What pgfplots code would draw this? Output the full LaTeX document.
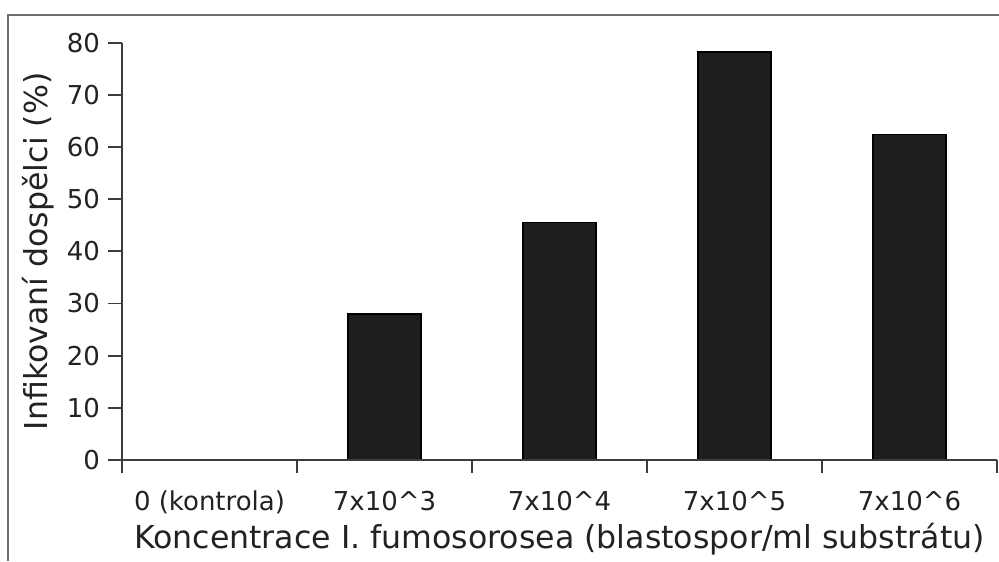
\documentclass[border=0pt]{standalone}
\usepackage{pgfplots}
\pgfplotsset{compat=1.18}
\usepackage{fontspec}
\setmainfont{DejaVu Sans}
\definecolor{axisgray}{HTML}{3C3C3C}
\definecolor{barfill}{HTML}{1E1E1E}
\definecolor{framegray}{HTML}{707070}
\definecolor{txt}{HTML}{222222}
\begin{document}
\begin{tikzpicture}
\useasboundingbox (-61pt,-50.5pt) rectangle (438.5pt,230pt);
\draw[framegray, line width=1.2pt] (-57pt,-50.5pt) -- (-57pt,222.5pt) -- (438.5pt,222.5pt);
\begin{axis}[
  at={(0pt,0pt)}, anchor=south west,
  scale only axis,
  width=437.5pt, height=208.65pt,
  xmin=-0.5, xmax=4.5, ymin=0, ymax=80,
  axis x line*=bottom, axis y line*=left,
  axis on top,
  axis line style={axisgray, line width=1pt},
  tick style={axisgray, line width=0.9pt},
  tick align=outside,
  major tick length=7pt,
  minor tick length=6.5pt,
  xtick={0,1,2,3,4},
  xticklabels={0 (kontrola),7x10\^{}3,7x10\^{}4,7x10\^{}5,7x10\^{}6},
  minor xtick={-0.5,0.5,1.5,2.5,3.5,4.5},
  x tick style={draw=none},
  minor x tick style={draw=axisgray, line width=0.9pt},
  ytick={0,10,...,80},
  /pgf/number format/assume math mode=true,
  ticklabel style={font=\fontsize{13}{15}\selectfont, text=txt},
  xticklabel style={anchor=base, yshift=-18pt},
  yticklabel style={xshift=-0.5pt},
  label style={font=\fontsize{15.8}{18}\selectfont, text=txt},
  xlabel={Koncentrace I. fumosorosea (blastospor/ml substrátu)},
  ylabel={Infikovaní dospělci (\%)},
  xlabel style={at={(axis description cs:0.5,-0.19)}, anchor=center},
  ylabel style={at={(axis description cs:-0.096,0.5)}, anchor=center},
  ybar, bar width=36.5pt,
  clip=false,
]
\addplot[fill=barfill, draw=black, line width=0.6pt] coordinates {(0,0) (1,28.0) (2,45.5) (3,78.2) (4,62.4)};
\end{axis}
\end{tikzpicture}
\end{document}
